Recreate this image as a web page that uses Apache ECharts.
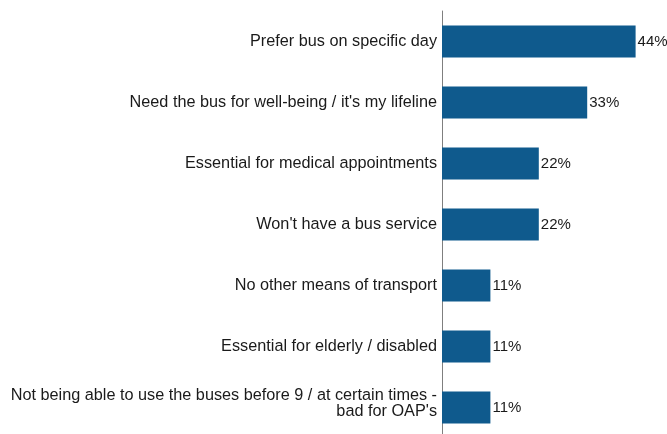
<!DOCTYPE html>
<html>
<head>
<meta charset="utf-8">
<script src="https://cdn.jsdelivr.net/npm/echarts@6/dist/echarts.min.js"></script>
<style>
  html, body { margin: 0; padding: 0; background: #fff; }
  #chart { width: 667px; height: 434px; }
</style>
</head>
<body>
<div id="chart"></div>
<script>
// Reasons given for needing the bus service (share of respondents, %)
const categories = [
  "Prefer bus on specific day",
  "Need the bus for well-being / it's my lifeline",
  "Essential for medical appointments",
  "Won't have a bus service",
  "No other means of transport",
  "Essential for elderly / disabled",
  "Not being able to use the buses before 9 / at certain times -\nbad for OAP's"
];
const values = [44, 33, 22, 22, 11, 11, 11];

const FONT = 'Liberation Sans, Arial, sans-serif';
const labelText = { fontFamily: FONT, fontSize: 16.25, color: '#1a1a1a', align: 'right' };

const chart = echarts.init(document.getElementById('chart'), null, { renderer: 'canvas' });

chart.setOption({
  animation: false,
  backgroundColor: '#ffffff',
  grid: {
    left: 442, top: 11, width: 220, height: 427,
    containLabel: false,
    outerBoundsMode: 'none'
  },
  xAxis: {
    type: 'value',
    min: 0,
    max: 50,
    show: false
  },
  yAxis: {
    type: 'category',
    data: categories,
    inverse: true,
    axisLine: { show: true, lineStyle: { color: '#7f7f7f', width: 1 } },
    axisTick: { show: false },
    axisLabel: Object.assign({
      margin: 5,
      lineHeight: 16,
      // wrapped labels get a short empty trailing line so the block sits a little high
      formatter: v => {
        const lines = v.split('\n');
        if (lines.length < 2) return v;
        return lines.map(l => '{line|' + l + '}').join('\n') + '\n{gap| }';
      },
      rich: {
        line: Object.assign({ lineHeight: 16 }, labelText),
        gap: Object.assign({ lineHeight: 7 }, labelText, { fontSize: 4 })
      }
    }, labelText)
  },
  series: [{
    type: 'bar',
    data: values,
    barWidth: 32,
    itemStyle: { color: '#0f5a8d' },
    label: {
      show: true,
      position: 'right',
      distance: 2,
      formatter: p => p.value + '%',
      fontFamily: FONT,
      fontSize: 15,
      color: '#1a1a1a'
    }
  }]
});
</script>
</body>
</html>
